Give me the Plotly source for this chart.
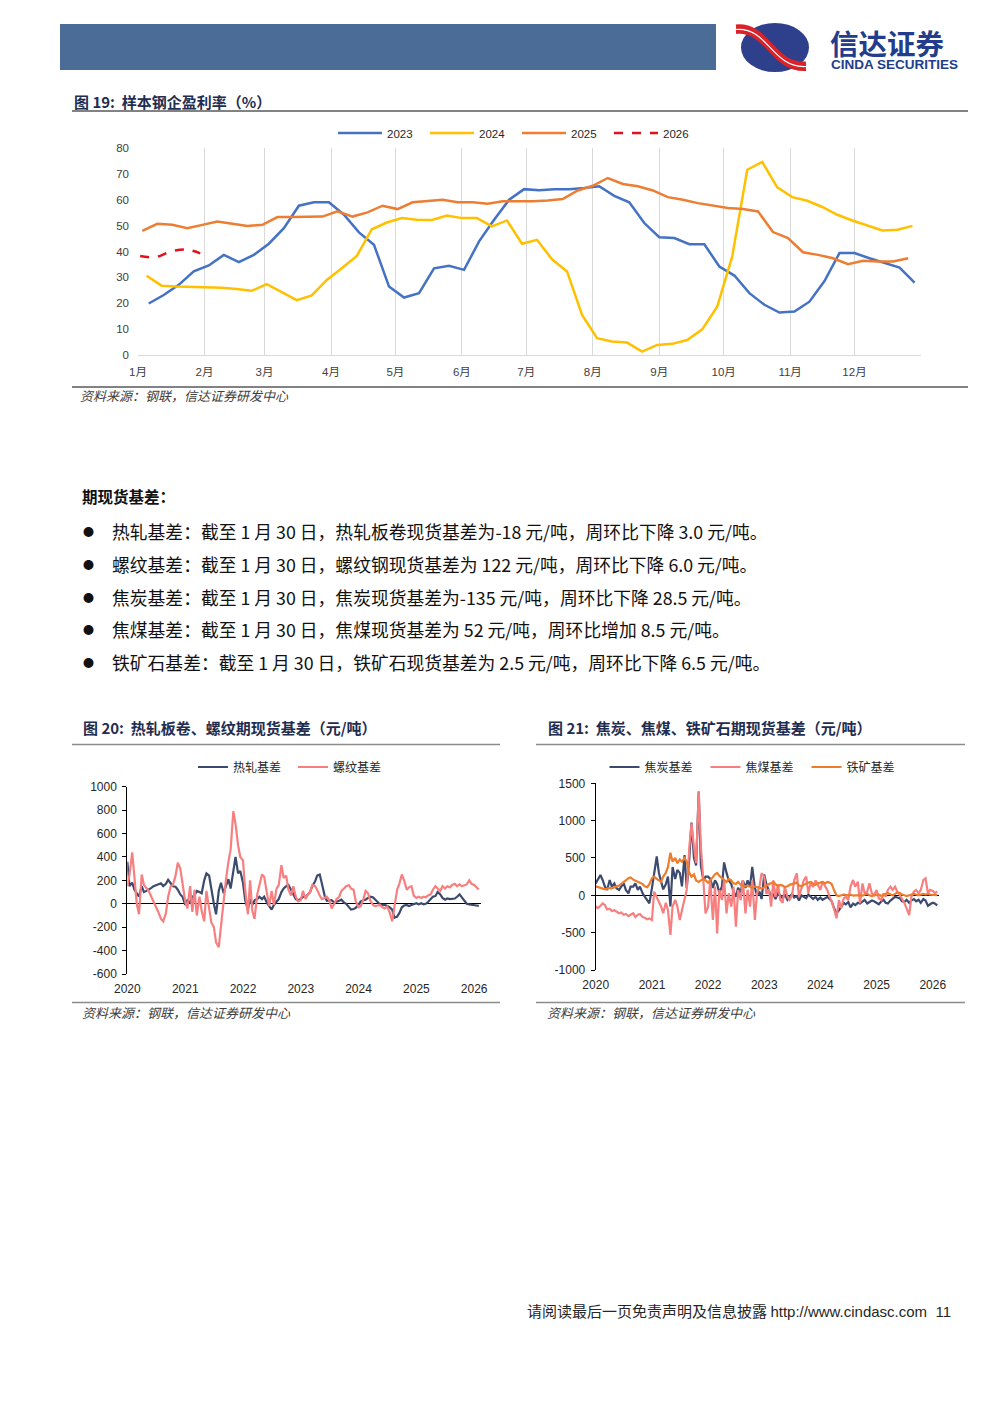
import plotly.graph_objects as go
import pandas as pd

W, H = 1000, 1414
PAGE_OFF = 8  # the page body adds an 8px margin; compensate so the layout lands on target pixels


def px(x):
    return (x - PAGE_OFF) / W


def py(y):
    return 1 - (y - PAGE_OFF) / H


# ---------------- Figure 19 data: sample steel mill profitability (%) -------------
month_labels = ["1月", "2月", "3月", "4月", "5月", "6月", "7月", "8月", "9月", "10月", "11月", "12月", ""]
month_ticks = [f"2023-{m:02d}-01" for m in range(1, 13)] + ["2024-01-01"]

# weekly observations, plotted on a common calendar year
start_2023 = "2023-01-06"
start_2024 = "2023-01-05"
start_2025 = "2023-01-03"
start_2026 = "2023-01-02"

profit_2023 = [19.9, 23.2, 27.1, 32.3, 34.6, 38.7, 35.9, 38.7, 43.0, 49.0,
               57.7, 59.0, 59.0, 54.2, 47.4, 42.6, 26.5, 22.2, 23.9, 33.5,
               34.5, 32.9, 43.9, 52.3, 60.0, 64.1, 63.7, 64.1, 64.1, 64.5,
               65.2, 61.5, 59.0, 51.0, 45.5, 45.2, 42.8, 42.8, 34.2, 30.7,
               23.9, 19.4, 16.4, 16.8, 20.6, 28.6, 39.4, 39.4, 37.4, 35.5,
               33.8, 28.0]
profit_2024 = [30.6, 26.8, 26.5, 26.3, 26.1, 26.0, 25.5, 24.8, 27.4, 24.3,
               21.2, 23.0, 29.0, 33.5, 38.3, 48.6, 51.2, 52.9, 52.3, 52.2,
               53.9, 52.9, 52.9, 49.7, 52.0, 43.0, 44.5, 37.0, 32.3, 15.5,
               6.5, 5.2, 4.8, 1.3, 3.9, 4.3, 5.8, 9.9, 18.7, 38.1,
               71.6, 74.6, 64.8, 61.0, 59.6, 57.2, 54.2, 52.0, 49.9, 48.1,
               48.4, 49.9]
profit_2025 = [48.0, 50.7, 50.3, 49.0, 50.3, 51.6, 50.7, 49.9, 50.3, 53.3,
               53.3, 53.3, 53.5, 55.5, 53.5, 55.1, 57.7, 56.4, 59.0, 59.5,
               60.0, 59.0, 59.0, 58.5, 59.4, 59.4, 59.4, 59.7, 60.3, 63.6,
               65.4, 68.4, 66.1, 65.2, 63.6, 61.0, 60.0, 58.7, 57.7, 56.8,
               56.4, 55.5, 47.5, 45.2, 39.7, 38.7, 37.4, 35.1, 36.4, 36.1,
               36.1, 37.4]
profit_2026 = [38.3, 37.8, 39.9, 40.8, 39.3]

# ---------------- Figure 20 / 21 data: futures-spot basis (yuan/ton) -------------
# semi-monthly readings, 2020-01 .. 2026-01-30
basis_dates = list(pd.date_range("2020-01-01", periods=144, freq="SMS")) + [
    pd.Timestamp("2026-01-01"), pd.Timestamp("2026-01-15"), pd.Timestamp("2026-01-30")]

hrc_basis = [
    360, 150, 180, 120, 90, 60, 150, 100, 110, 120, 135, 150, 160, 165, 175, 150, 170, 205, 170, 150, 145, 120, 80, 60,
    -10, 30, 10, 60, 70, 110, 100, 90, 200, 260, 240, 110, 0, -90, 110, 180, 90, 150, 210, 130, 300, 400, 260, 280,
    180, 30, -50, 40, -10, 30, 40, 60, 40, 60, 10, -20, -50, -10, 20, 40, 100, 130, 150, 160, 120, 80, 40, 30,
    40, 60, 60, 80, 100, 150, 190, 240, 250, 170, 70, 25, 25, 30, 10, 15, 25, 35, 10, 0, -25, -50, -45, -35,
    -10, 20, 30, 35, 50, 60, 55, 35, 10, -5, -10, -10, -20, -30, -50, -120, -110, -80, -30, -15, -10, -20, -10, 0,
    5, -5, 5, -5, 0, 15, 40, 60, 65, 100, 80, 50, 35, 45, 40, 40, 45, 60, 80, 55, 25, 0, -5, -10,
    -10, -15, -18]
rebar_basis = [
    150, 250, 440, 200, 0, -90, 250, 160, 130, 110, 60, 20, -30, -70, -130, -150, -80, 60, 150, 160, 240, 350, 300, 180,
    20, -40, 150, -70, 120, -100, 60, -60, -150, 110, -20, -160, -200, -330, -370, -180, 30, 200, 360, 460, 790, 680, 500, 400,
    370, 120, -90, 200, -60, -130, 80, 150, 250, 230, 90, -20, 110, -10, 130, 160, 330, 220, 240, 120, 70, 150, 60, 20,
    30, 110, 40, 80, 100, 160, 150, 120, 70, 40, 50, 60, 30, -40, 0, 40, 60, 110, 130, 150, 160, 130, 120, 20,
    -30, -20, 40, 110, 90, 30, -10, -20, -15, -10, -30, -40, -25, -70, -150, -20, 120, 170, 250, 200, 120, 140, 150, 70,
    50, 60, 50, 60, 55, 70, 80, 120, 150, 130, 110, 150, 130, 150, 140, 160, 170, 150, 165, 150, 160, 165, 200, 170,
    160, 140, 122]
coke_basis = [
    160, 205, 273, 205, 116, 72, 205, 116, 160, 94, 72, 116, 160, 72, 27, 116, 116, 160, 72, 116, 27, -18, -63, -107,
    100, 300, 520, 300, 200, 80, 150, 250, -150, 380, 220, 340, 300, 120, 540, 100, 500, 975, 500, 400, 1390, 400, 200, 250,
    250, 220, 100, 200, 150, 30, 120, 440, 300, 200, 150, 50, -20, 100, 40, 200, 100, 200, 120, 380, 100, 0, 50, -50,
    280, 150, 60, -20, 20, -50, 30, 0, -40, 10, -60, -20, 20, -30, -10, -70, 0, -20, -40, 10, -30, -50, -20, -60,
    -30, -60, -40, -20, -50, -80, -180, -240, -200, -150, -100, -120, -90, -160, -110, -130, -100, -110, -80, -60, -110, -90, -70, -80,
    -100, -120, -80, -60, -100, -110, -70, -40, -20, -30, -40, -80, -90, -60, -100, -70, -50, -80, -60, -100, -50, -70, -140, -120,
    -100, -110, -135]
coal_basis = [
    -150, -170, -140, -110, -130, -190, -180, -210, -200, -220, -240, -230, -260, -250, -280, -260, -240, -290, -260, -250, -290, -300, -320, -310,
    -330, 50, -20, -100, -150, -240, -100, -200, -530, -150, -60, -150, -330, -200, -60, 72, 650, 965, 650, 430, 1390, 650, 205, -241,
    -152, 205, -330, 116, -510, 72, -63, 205, -241, 27, -152, 116, -420, 72, -63, 205, -241, 72, -152, 205, -330, 27, 116, 295,
    250, 20, 80, -150, 200, -20, 150, -60, -100, 116, -20, -60, 0, 205, 295, -20, 100, 200, 250, 30, 180, 110, 200, 150,
    72, 183, 116, 72, -18, -85, -197, -308, -63, -174, -40, -18, -63, 116, 205, 116, 183, -107, 160, 27, 50, 160, 27, 4,
    72, -40, -63, 27, -18, 72, 116, 72, 116, 50, 4, -40, -107, -174, -264, -18, 50, 72, 27, 72, 205, 228, 27, 72,
    60, 30, 52]
ore_basis = [
    120, 110, 100, 90, 80, 90, 100, 90, 110, 120, 130, 150, 170, 200, 230, 240, 210, 200, 190, 170, 150, 120, 110, 150,
    230, 250, 220, 200, 180, 250, 300, 380, 570, 450, 500, 430, 480, 450, 500, 450, 300, 250, 280, 200, 180, 200, 220, 200,
    170, 200, 250, 280, 300, 260, 230, 200, 180, 220, 200, 160, 150, 180, 140, 130, 120, 130, 110, 100, 120, 110, 100, 90,
    110, 130, 150, 160, 180, 150, 120, 140, 130, 110, 120, 140, 150, 160, 170, 130, 120, 140, 160, 170, 180, 150, 140, 160,
    170, 180, 160, 180, 170, 150, 60, 0, -10, 0, 10, 5, 0, 10, -5, 0, 5, 0, -5, 10, 20, 0, -10, 0,
    0, 10, -10, 0, 20, 30, 10, 0, 20, 40, 30, 10, 0, -10, 0, 10, 20, 10, 0, 10, 20, 10, 20, 10,
    10, 0, 3]

year_ticks = [f"{y}-01-01" for y in range(2020, 2027)]
year_labels = [str(y) for y in range(2020, 2027)]
ticks_20 = [-600, -400, -200, 0, 200, 400, 600, 800, 1000]
ticks_21 = [-1000, -500, 0, 500, 1000, 1500]
ticks_19 = [0, 10, 20, 30, 40, 50, 60, 70, 80]

# ---------------- styles ----------------
C23, C24, C25, C26 = "#4472C4", "#FFC000", "#ED7D31", "#E3101E"
NAVY, PINK, ORANGE = "#3C4A6E", "#F77F7F", "#EE7D2B"
TXT = "#262626"
SANS = "Liberation Sans, Arial, Noto Sans CJK SC, sans-serif"
CJK = "Noto Sans CJK SC, sans-serif"

fig = go.Figure()


def weekly(start, n):
    return pd.date_range(start, periods=n, freq="7D")


fig.add_trace(go.Scatter(x=weekly(start_2023, len(profit_2023)), y=profit_2023, name="2023",
                         mode="lines", line=dict(color=C23, width=2.5), legend="legend"))
fig.add_trace(go.Scatter(x=weekly(start_2024, len(profit_2024)), y=profit_2024, name="2024",
                         mode="lines", line=dict(color=C24, width=2.5), legend="legend"))
fig.add_trace(go.Scatter(x=weekly(start_2025, len(profit_2025)), y=profit_2025, name="2025",
                         mode="lines", line=dict(color=C25, width=2.5), legend="legend"))
fig.add_trace(go.Scatter(x=weekly(start_2026, len(profit_2026)), y=profit_2026, name="2026",
                         mode="lines", line=dict(color=C26, width=2.5, dash="dash", shape="spline"),
                         legend="legend"))

fig.add_trace(go.Scatter(x=basis_dates, y=hrc_basis, name="热轧基差", mode="lines",
                         line=dict(color=NAVY, width=2.2), xaxis="x2", yaxis="y2", legend="legend2"))
fig.add_trace(go.Scatter(x=basis_dates, y=rebar_basis, name="螺纹基差", mode="lines",
                         line=dict(color=PINK, width=2.2), xaxis="x2", yaxis="y2", legend="legend2"))

fig.add_trace(go.Scatter(x=basis_dates, y=coke_basis, name="焦炭基差", mode="lines",
                         line=dict(color=NAVY, width=2.2), xaxis="x3", yaxis="y3", legend="legend3"))
fig.add_trace(go.Scatter(x=basis_dates, y=coal_basis, name="焦煤基差", mode="lines",
                         line=dict(color=PINK, width=2.2), xaxis="x3", yaxis="y3", legend="legend3"))
fig.add_trace(go.Scatter(x=basis_dates, y=ore_basis, name="铁矿基差", mode="lines",
                         line=dict(color=ORANGE, width=2.2), xaxis="x3", yaxis="y3", legend="legend3"))

tickfont19 = dict(family=SANS, size=11.5, color="#404040")
tickfont = dict(family=SANS, size=12, color="#262626")

fig.update_layout(
    xaxis=dict(domain=[px(138), px(921)], anchor="y", type="date", automargin=False,
               range=["2023-01-01", "2024-01-01"], tickmode="array",
               tickvals=month_ticks, ticktext=month_labels, showgrid=True,
               gridcolor="#D9D9D9", gridwidth=1, showline=True, linecolor="#D9D9D9",
               ticks="", tickfont=tickfont19, ticklabelstandoff=6, zeroline=False),
    yaxis=dict(domain=[py(355), py(148)], anchor="x", range=[0, 80], automargin=False,
               tickmode="array", tickvals=ticks_19, ticktext=[str(v) for v in ticks_19],
               showgrid=False, zeroline=False, showline=False, tickfont=tickfont19,
               ticklabelstandoff=8),
    xaxis2=dict(domain=[px(127.3), px(480.5)], anchor="y2", type="date", automargin=False,
                range=["2020-01-01", "2026-02-10"], tickmode="array",
                tickvals=year_ticks, ticktext=year_labels, showgrid=False,
                showline=False, zeroline=False, tickfont=tickfont, ticklabelstandoff=6),
    yaxis2=dict(domain=[py(974), py(786.7)], anchor="x2", range=[-600, 1000], automargin=False,
                tickmode="array", tickvals=ticks_20, ticktext=[str(v) for v in ticks_20],
                showgrid=False, zeroline=True, zerolinecolor="#000000", zerolinewidth=1,
                showline=True, linecolor="#000000", linewidth=1, ticks="outside",
                ticklen=4, tickcolor="#000000", tickfont=tickfont, ticklabelstandoff=3),
    xaxis3=dict(domain=[px(595.7), px(938.9)], anchor="y3", type="date", automargin=False,
                range=["2020-01-01", "2026-02-10"], tickmode="array",
                tickvals=year_ticks, ticktext=year_labels, showgrid=False,
                showline=False, zeroline=False, tickfont=tickfont, ticklabelstandoff=6),
    yaxis3=dict(domain=[py(970), py(783.3)], anchor="x3", range=[-1000, 1500], automargin=False,
                tickmode="array", tickvals=ticks_21, ticktext=[str(v) for v in ticks_21],
                showgrid=False, zeroline=True, zerolinecolor="#000000", zerolinewidth=1,
                showline=True, linecolor="#000000", linewidth=1, ticks="outside",
                ticklen=4, tickcolor="#000000", tickfont=tickfont, ticklabelstandoff=3),
)

legend_common = dict(orientation="h", xanchor="center", yanchor="middle",
                     bgcolor="rgba(0,0,0,0)", entrywidthmode="pixels")
fig.update_layout(
    legend=dict(x=px(517), y=py(133), itemwidth=44, entrywidth=33,
                font=dict(family=SANS, size=11.5, color=TXT), **legend_common),
    legend2=dict(x=px(293), y=py(767), itemwidth=30, entrywidth=55,
                 font=dict(family=CJK, size=12, color=TXT), **legend_common),
    legend3=dict(x=px(756), y=py(767), itemwidth=30, entrywidth=56,
                 font=dict(family=CJK, size=12, color=TXT), **legend_common),
)

# ---------------- page decorations ----------------
shapes = []


def hline(x0, x1, y, color="#595959", width=1.5):
    shapes.append(dict(type="line", xref="paper", yref="paper", x0=px(x0), x1=px(x1),
                       y0=py(y), y1=py(y), line=dict(color=color, width=width)))


# header bar
shapes.append(dict(type="rect", xref="paper", yref="paper", x0=px(60), x1=px(716),
                   y0=py(70), y1=py(24), fillcolor="#4B6C96", line=dict(width=0), layer="below"))
# logo
shapes.append(dict(type="circle", xref="paper", yref="paper", x0=px(741), x1=px(809),
                   y0=py(72), y1=py(23), fillcolor="#2E3F8C", line=dict(width=0)))


def path_px(pts):
    s = "M {:.5f},{:.5f}".format(px(pts[0][0]), py(pts[0][1]))
    s += " C " + " ".join("{:.5f},{:.5f}".format(px(a), py(b)) for a, b in pts[1:])
    return s


for off, col, wd in [(0, "#D8232A", 5), (5, "#D8232A", 4), (2.5, "#FFFFFF", 1.2)]:
    shapes.append(dict(type="path", xref="paper", yref="paper",
                       path=path_px([(736, 27 + off), (768, 24 + off), (772, 66 + off), (806, 64 + off)]),
                       line=dict(color=col, width=wd)))

hline(72, 968, 111, "#595959", 1.5)
hline(72, 968, 387, "#595959", 1.5)
hline(72, 500, 744.5, "#8C8C8C", 1.5)
hline(72, 500, 1002.5, "#8C8C8C", 1.5)
hline(536, 965, 744.5, "#8C8C8C", 1.5)
hline(536, 965, 1002.5, "#8C8C8C", 1.5)

ann = []


def text(x, y, s, size, color=TXT, family=CJK, xanchor="left"):
    ann.append(dict(xref="paper", yref="paper", x=px(x), y=py(y), text=s, showarrow=False,
                    xanchor=xanchor, yanchor="middle", font=dict(family=family, size=size, color=color)))


TITLE = "#1F2D50"
text(828, 42.5, "<b>信达证券</b>", 28.5, "#233C8C")
text(829, 64, "<b>CINDA SECURITIES</b>", 13.5, "#233C8C", SANS)

text(72, 101, "<b>图 19:  样本钢企盈利率（%）</b>", 15, TITLE)
text(78, 396, "<i>资料来源：钢联，信达证券研发中心</i>", 13, "#404040")

text(80, 496, "<b>期现货基差：</b>", 15.5, "#111111")
bullets = [
    "热轧基差：截至 1 月 30 日，热轧板卷现货基差为-18 元/吨，周环比下降 3.0 元/吨。",
    "螺纹基差：截至 1 月 30 日，螺纹钢现货基差为 122 元/吨，周环比下降 6.0 元/吨。",
    "焦炭基差：截至 1 月 30 日，焦炭现货基差为-135 元/吨，周环比下降 28.5 元/吨。",
    "焦煤基差：截至 1 月 30 日，焦煤现货基差为 52 元/吨，周环比增加 8.5 元/吨。",
    "铁矿石基差：截至 1 月 30 日，铁矿石现货基差为 2.5 元/吨，周环比下降 6.5 元/吨。",
]
for i, b in enumerate(bullets):
    yy = 531 + i * 32.8
    text(81, yy, "●", 11, "#111111")
    text(110, yy, b, 17.8, "#111111")

text(81, 727, "<b>图 20:  热轧板卷、螺纹期现货基差（元/吨）</b>", 15, TITLE)
text(80, 1012, "<i>资料来源：钢联，信达证券研发中心</i>", 13, "#404040")
text(546, 727, "<b>图 21:  焦炭、焦煤、铁矿石期现货基差（元/吨）</b>", 15, TITLE)
text(545, 1012, "<i>资料来源：钢联，信达证券研发中心</i>", 13, "#404040")

text(953, 1310, "请阅读最后一页免责声明及信息披露 <span style='font-family:Liberation Sans'>http://www.cindasc.com  11</span>",
     15, "#262626", CJK, xanchor="right")

fig.update_layout(
    width=W, height=H, autosize=False,
    margin=dict(l=0, r=0, t=0, b=0, pad=0),
    paper_bgcolor="white", plot_bgcolor="rgba(0,0,0,0)",
    shapes=shapes, annotations=ann, showlegend=True,
)

fig.write_html("out.html")
